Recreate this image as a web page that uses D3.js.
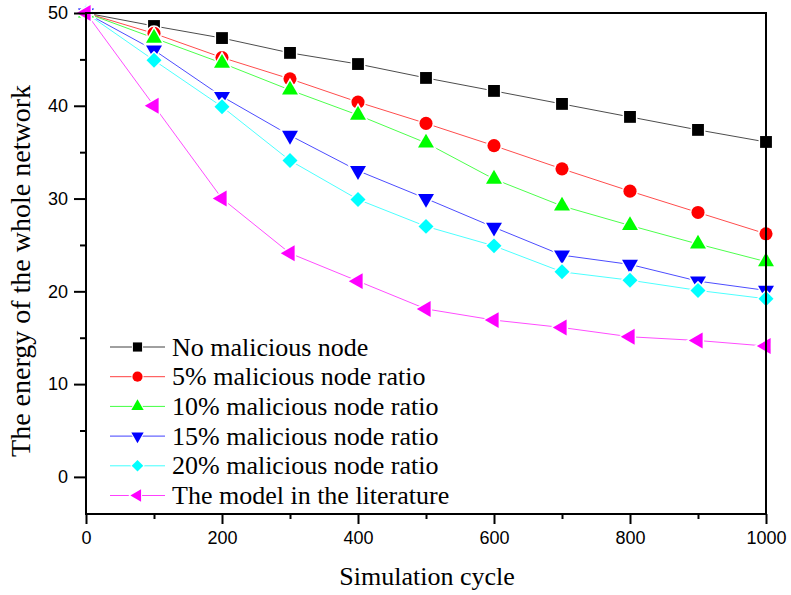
<!DOCTYPE html>
<html>
<head>
<meta charset="utf-8">
<script src="https://cdn.jsdelivr.net/npm/d3@7"></script>
<style>
  body { margin: 0; background: #fff; }
  svg { display: block; }
</style>
</head>
<body>
<script>
const cycles = [0, 100, 200, 300, 400, 500, 600, 700, 800, 900, 1000];

const noMalicious = [50, 48.6, 47.3, 45.7, 44.5, 43.0, 41.6, 40.2, 38.8, 37.4, 36.1];
const ratio5 = [50, 47.8, 45.2, 42.9, 40.4, 38.1, 35.7, 33.2, 30.8, 28.5, 26.2];
const ratio10 = [50, 47.3, 44.6, 41.7, 39.0, 36.0, 32.1, 29.2, 27.1, 25.1, 23.2];
const ratio15 = [50, 46.0, 41.0, 36.8, 33.0, 30.0, 26.9, 23.9, 22.9, 21.1, 20.1];
const ratio20 = [50, 44.9, 39.9, 34.1, 29.9, 27.0, 24.9, 22.1, 21.2, 20.1, 19.2];
const literature = [50, 40.0, 30.0, 24.1, 21.1, 18.1, 16.9, 16.1, 15.1, 14.7, 14.1];

const seriesNames = [
  "No malicious node",
  "5% malicious node ratio",
  "10% malicious node ratio",
  "15% malicious node ratio",
  "20% malicious node ratio",
  "The model in the literature"
];
const seriesValues = [noMalicious, ratio5, ratio10, ratio15, ratio20, literature];
const seriesColors = ["#000000", "#ff0000", "#00ff00", "#0000ff", "#00ffff", "#ff00ff"];

const xTicks = [0, 200, 400, 600, 800, 1000];
const yTicks = [0, 10, 20, 30, 40, 50];

const width = 791;
const height = 595;
const plot = { left: 86, top: 13, right: 766, bottom: 514 };

const serif = "'Liberation Serif', 'Times New Roman', serif";
const sans = "'Liberation Sans', Arial, sans-serif";

const x = d3.scaleLinear().domain([0, 1000]).range([plot.left, plot.right]);
const y = d3.scaleLinear().domain([-4, 50]).range([plot.bottom, plot.top]);

const svg = d3.select("body").append("svg")
  .attr("width", width)
  .attr("height", height);

// marker shapes
const symbolDefs = [
  { type: d3.symbolSquare, size: 140, rotate: 0 },
  { type: d3.symbolCircle, size: 135, rotate: 0 },
  { type: d3.symbolTriangle, size: 110, rotate: 0 },
  { type: d3.symbolTriangle, size: 110, rotate: 180 },
  { type: d3.symbolSquare, size: 112, rotate: 45 },
  { type: d3.symbolTriangle, size: 110, rotate: -90 }
];

const markerPath = (i, k = 1) =>
  d3.symbol().type(symbolDefs[i].type).size(symbolDefs[i].size * k)();

// series
const line = d3.line()
  .x((d, i) => x(cycles[i]))
  .y((d) => y(d));

const dataGroup = svg.append("g");

seriesValues.forEach((vals, si) => {
  dataGroup.append("path")
    .attr("d", line(vals))
    .attr("fill", "none")
    .attr("stroke", seriesColors[si])
    .attr("stroke-opacity", 0.7)
    .attr("stroke-width", 1);
});

seriesValues.forEach((vals, si) => {
  dataGroup.append("g")
    .selectAll("path")
    .data(vals)
    .enter()
    .append("path")
    .attr("d", markerPath(si))
    .attr("transform", (d, i) =>
      `translate(${x(cycles[i])},${y(d)}) rotate(${symbolDefs[si].rotate})`)
    .attr("fill", seriesColors[si])
    .attr("stroke", "#fff")
    .attr("stroke-width", 3)
    .style("paint-order", "stroke");
});

// axes
const axisGroup = svg.append("g");

const xAxis = d3.axisBottom(x).tickValues(xTicks).tickSize(10).tickPadding(7)
  .tickFormat(d3.format("d"));
const xMinor = d3.axisBottom(x).tickValues(d3.range(100, 1000, 200)).tickSize(5).tickFormat("");
const yAxis = d3.axisLeft(y).tickValues(yTicks).tickSize(12).tickPadding(6)
  .tickFormat(d3.format("d"));
const yMinor = d3.axisLeft(y).tickValues(d3.range(5, 50, 10)).tickSize(6).tickFormat("");

[
  [xAxis, `translate(0,${plot.bottom})`],
  [xMinor, `translate(0,${plot.bottom})`],
  [yAxis, `translate(${plot.left},0)`],
  [yMinor, `translate(${plot.left},0)`]
].forEach(([ax, tr]) => {
  const g = axisGroup.append("g").attr("transform", tr).call(ax);
  g.select(".domain").remove();
  g.selectAll("line").attr("stroke", "#000").attr("stroke-width", 2);
  g.selectAll("text")
    .attr("fill", "#000")
    .attr("font-family", sans)
    .attr("font-size", 18);
});

// frame
svg.append("rect")
  .attr("x", plot.left)
  .attr("y", plot.top)
  .attr("width", plot.right - plot.left)
  .attr("height", plot.bottom - plot.top)
  .attr("fill", "none")
  .attr("stroke", "#000")
  .attr("stroke-width", 2);

// axis titles
svg.append("text")
  .attr("x", 427)
  .attr("y", 585)
  .attr("text-anchor", "middle")
  .attr("font-family", serif)
  .attr("font-size", 26)
  .text("Simulation cycle");

svg.append("text")
  .attr("transform", "translate(30,271) rotate(-90)")
  .attr("text-anchor", "middle")
  .attr("font-family", serif)
  .attr("font-size", 28)
  .text("The energy of the whole network");

// legend
const legend = svg.append("g");
const legendTop = 347;
const legendStep = 29.7;

seriesNames.forEach((name, si) => {
  const ly = legendTop + si * legendStep;
  const row = legend.append("g");
  row.append("line")
    .attr("x1", 110).attr("x2", 165)
    .attr("y1", ly).attr("y2", ly)
    .attr("stroke", seriesColors[si])
    .attr("stroke-opacity", 0.75)
    .attr("stroke-width", 1);
  row.append("path")
    .attr("d", markerPath(si, 0.6))
    .attr("transform", `translate(137.5,${ly}) rotate(${symbolDefs[si].rotate})`)
    .attr("fill", seriesColors[si])
    .attr("stroke", "#fff")
    .attr("stroke-width", 2)
    .style("paint-order", "stroke");
  row.append("text")
    .attr("x", 172)
    .attr("y", ly)
    .attr("dy", "0.33em")
    .attr("font-family", serif)
    .attr("font-size", 26)
    .attr("fill", "#000")
    .text(name);
});
</script>
</body>
</html>
